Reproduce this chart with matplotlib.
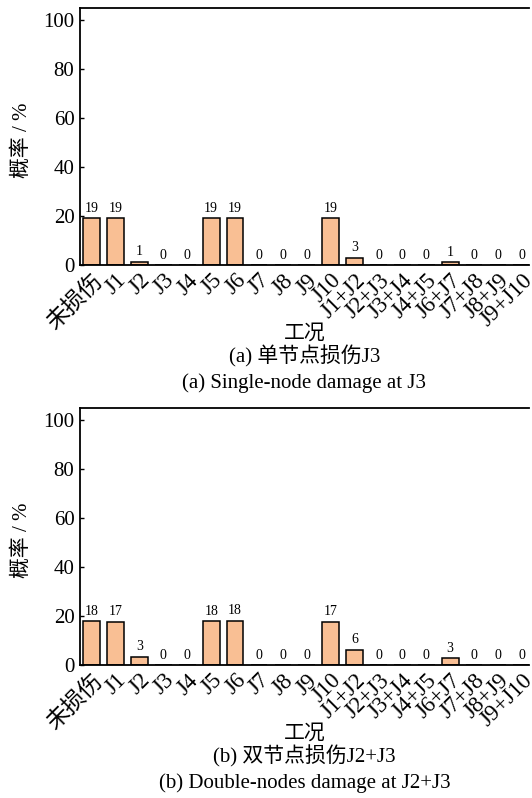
import matplotlib
matplotlib.use("Agg")
import matplotlib.pyplot as plt

# Data
cases = ["未损伤", "J1", "J2", "J3", "J4", "J5", "J6", "J7", "J8", "J9", "J10",
         "J1+J2", "J2+J3", "J3+J4", "J4+J5", "J6+J7", "J7+J8", "J8+J9", "J9+J10"]
prob_single = [19, 19, 1, 0, 0, 19, 19, 0, 0, 0, 19, 3, 0, 0, 0, 1, 0, 0, 0]
prob_double = [18, 17, 3, 0, 0, 18, 18, 0, 0, 0, 17, 6, 0, 0, 0, 3, 0, 0, 0]
# heights drawn slightly differ from rounded labels
height_single = [19.0, 19.0, 1.4, 0, 0, 19.0, 19.0, 0, 0, 0, 19.0, 3.0, 0, 0, 0, 1.2, 0, 0, 0]
height_double = [17.8, 17.6, 3.4, 0, 0, 17.8, 18.0, 0, 0, 0, 17.6, 6.2, 0, 0, 0, 2.7, 0, 0, 0]
captions_cn = ["(a) 单节点损伤J3", "(b) 双节点损伤J2+J3"]
captions_en = ["(a) Single-node damage at J3", "(b) Double-nodes damage at J2+J3"]

FONT = ["Liberation Serif", "Noto Sans CJK SC"]
BAR_FC = "#F9BF94"

plt.rcParams["font.family"] = FONT
plt.rcParams["axes.unicode_minus"] = False

fig = plt.figure(figsize=(5.32, 7.98), dpi=100)
W, H = 532, 798

panels = [
    (8, 265, prob_single, height_single, 0),
    (408, 665, prob_double, height_double, 1),
]

for top_px, bot_px, labels, heights, k in panels:
    left_px, right_px = 80, 529
    ax = fig.add_axes([left_px / W, 1 - bot_px / H,
                       (right_px - left_px) / W, (bot_px - top_px) / H])
    x = list(range(len(cases)))
    ax.bar(x, heights, width=0.7, color=BAR_FC, edgecolor="black", linewidth=1.1,
           zorder=2)
    for xi, h, lab in zip(x, heights, labels):
        ax.annotate(str(lab), (xi, h), xytext=(0, 2.5), textcoords="offset points",
                    ha="center", va="bottom", fontsize=10, family=FONT)
    ax.set_xlim(-0.49, 18.3)
    ax.set_ylim(0, 105)
    ax.set_yticks([0, 20, 40, 60, 80, 100])
    ax.tick_params(axis="y", labelsize=15, direction="in", length=3, width=1,
                   pad=4)
    ax.set_xticks(x)
    ax.set_xticklabels(cases, rotation=45, ha="right", rotation_mode="anchor",
                       fontsize=16.5)
    ax.tick_params(axis="x", length=0, pad=3.5)
    ax.spines["right"].set_visible(False)
    for s in ("left", "top", "bottom"):
        ax.spines[s].set_linewidth(1.3)

    cx = (left_px + right_px) / 2 / W
    fig.text(22 / W, 1 - (top_px + 132) / H, "概率 / %", rotation=90,
             ha="center", va="center", fontsize=15)
    fig.text(cx, 1 - (bot_px + 69) / H, "工况", ha="center", va="center",
             fontsize=15)
    fig.text(cx, 1 - (bot_px + 91) / H, captions_cn[k], ha="center",
             va="center", fontsize=15)
    fig.text(cx, 1 - (bot_px + 118) / H, captions_en[k], ha="center",
             va="center", fontsize=15)

fig.savefig("out.png", dpi=100, facecolor="white")
